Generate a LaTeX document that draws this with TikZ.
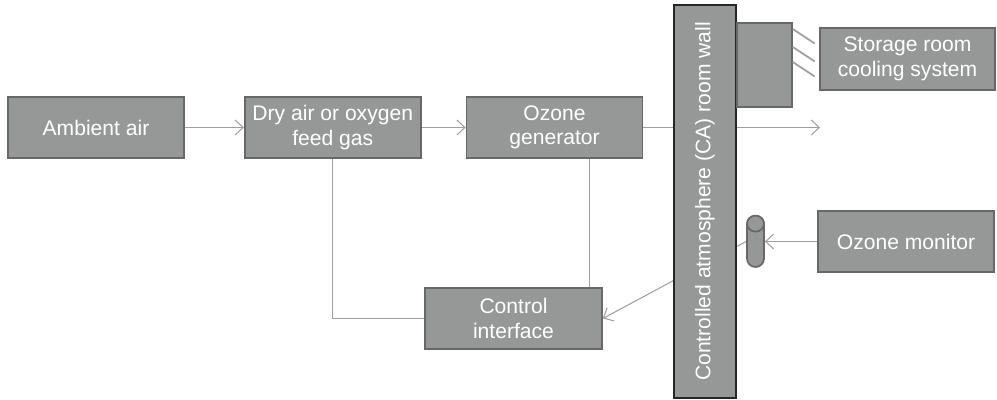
\documentclass[tikz,border=0pt]{standalone}
\usepackage{fontspec}
\setmainfont{Liberation Sans}
\usepackage{tikz}
\usetikzlibrary{shapes.geometric, arrows.meta, positioning, calc, backgrounds}
\definecolor{boxfill}{RGB}{150,152,152}
\definecolor{boxdraw}{RGB}{104,104,104}
\definecolor{linegray}{RGB}{160,160,160}
\tikzstyle{arrow} = [semithick, -{Straight Barb[length=1.6mm, width=3mm]}, linegray]
\tikzstyle{link} = [semithick, linegray]
\tikzstyle{unitbox} = [rectangle, minimum width=3.52cm, minimum height=1.22cm, inner sep=1pt,
                       text centered, draw=boxdraw, line width=1pt, fill=boxfill, text=white,
                       font=\fontsize{12}{14}\selectfont, align=center]

\begin{document}
\begin{tikzpicture}
    \useasboundingbox (0,0) rectangle (19.94,8);
    % Process chain
    \node[unitbox] (amb) at (1.92,5.45) {Ambient air};
    \node[unitbox, right=1.18cm of amb] (dry) {Dry air or oxygen\\feed gas};
    \node[unitbox, right=0.88cm of dry] (gen) {Ozone\\generator};
    \node[unitbox, minimum width=3.54cm] (ctrl) at (10.27,1.63) {Control\\interface};

    % Room wall and the units on it
    \node[unitbox, draw=black!85, rotate=90, minimum width=7.86cm, minimum height=1.24cm] (wall) at (14.1,3.97) {Controlled atmosphere (CA) room wall};
    \node[unitbox, minimum width=1.1cm, minimum height=1.68cm, anchor=north west] (cooler) at (14.72,7.56) {};
    \node[unitbox, minimum width=3.5cm, minimum height=1.24cm] (store) at (18.15,6.82) {Storage room\\cooling system};
    \node[unitbox] (mon) at (18.12,3.17) {Ozone monitor};
    \node[unitbox, rounded corners=0.17cm, minimum width=0.34cm, minimum height=1.02cm, inner sep=0pt] (sensor) at (15.11,3.17) {};
    \draw[draw=boxdraw, line width=1pt, fill=boxfill] ([yshift=-0.17cm]sensor.north) ellipse (0.17cm and 0.16cm);
    \coordinate (out) at (16.4,5.45);

    % Arrows
    \begin{pgfonlayer}{background}
        \draw[arrow] (amb) -- (dry);
        \draw[arrow] (dry) -- (gen);
        \draw[arrow] (gen) -- (out);
        \draw[arrow] (mon) -- (sensor);
        \draw[arrow] (sensor.west) -- (ctrl.east);
        \draw[link] (dry.south) |- (ctrl.west);
        \draw[link] ([xshift=0.7cm]gen.south) -- ([xshift=0.7cm]gen.south |- ctrl.north);
    \end{pgfonlayer}

    % Cooling fins
    \foreach \y in {7.42, 7.06, 6.76}
        \draw[link, line width=1pt] (cooler.east |- 0,\y) -- ++(0.44,-0.29);
\end{tikzpicture}
\end{document}
